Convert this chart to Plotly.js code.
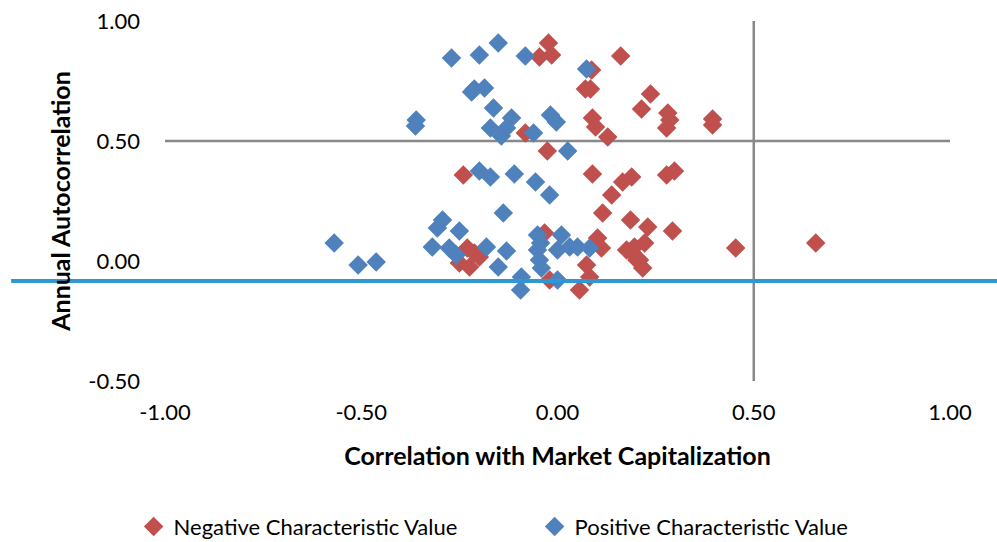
<!DOCTYPE html>
<html>
<head>
<meta charset="utf-8">
<script src="https://cdn.plot.ly/plotly-3.0.1.min.js"></script>
<style>html,body{margin:0;padding:0;background:#fff;}#chart{width:997px;height:542px;}</style>
</head>
<body>
<div id="chart"></div>
<script>
// Negative Characteristic Value series
var negX = [-0.023,-0.046,-0.015,0.161,0.087,0.071,0.084,0.237,0.214,0.089,0.097,0.128,0.281,0.286,0.278,0.395,0.395,-0.082,-0.026,-0.240,0.089,0.166,0.189,0.138,0.278,0.298,0.115,0.186,0.230,0.293,0.222,0.191,0.209,0.217,0.102,0.112,0.074,0.082,0.056,-0.020,0.176,0.202,0.196,-0.199,-0.230,-0.250,-0.224,-0.212,-0.033,0.454,0.658];
var negY = [0.908,0.850,0.858,0.854,0.796,0.717,0.717,0.696,0.633,0.596,0.558,0.517,0.617,0.588,0.554,0.592,0.567,0.533,0.458,0.358,0.363,0.329,0.350,0.275,0.358,0.375,0.200,0.171,0.142,0.125,0.075,0.033,0.004,-0.029,0.096,0.054,-0.017,-0.067,-0.121,-0.079,0.046,0.004,0.058,0.017,0.054,-0.008,-0.025,0.033,0.117,0.054,0.075];
// Positive Characteristic Value series
var posX = [-0.569,-0.508,-0.462,-0.360,-0.362,-0.270,-0.199,-0.151,-0.082,-0.219,-0.186,-0.212,-0.163,-0.171,-0.143,-0.117,-0.130,-0.061,-0.018,-0.003,0.026,0.074,-0.199,-0.171,-0.110,-0.056,-0.020,-0.138,-0.293,-0.306,-0.250,-0.319,-0.276,-0.258,-0.181,-0.130,-0.151,-0.092,-0.094,-0.051,0.010,-0.051,-0.046,-0.041,0.000,0.031,0.051,0.082,0.000,-0.043];
var posY = [0.075,-0.017,-0.004,0.588,0.563,0.846,0.858,0.908,0.854,0.704,0.721,0.717,0.638,0.554,0.521,0.596,0.554,0.533,0.608,0.579,0.458,0.800,0.375,0.350,0.363,0.329,0.275,0.200,0.171,0.138,0.125,0.058,0.054,0.025,0.058,0.042,-0.025,-0.067,-0.121,0.108,0.108,0.046,0.004,-0.029,0.046,0.058,0.058,0.054,-0.079,0.075];

var xTicks = [-1.0,-0.5,0.0,0.5,1.0];
var xTickText = ["-1.00","-0.50","0.00","0.50","1.00"];
var yTicks = [-0.5,0.0,0.5,1.0];
var yTickText = ["-0.50","0.00","0.50","1.00"];
var axisCross = 0.5;       // gray axis lines cross at 0.5
var refLineY = -0.083;     // blue horizontal reference line

var FONT = "Lato, 'Open Sans', 'Liberation Sans', sans-serif";

var traces = [
  {x: negX, y: negY, type: "scatter", mode: "markers", name: "Negative Characteristic Value",
   marker: {symbol: "diamond", size: 15, color: "#C0504D"}},
  {x: posX, y: posY, type: "scatter", mode: "markers", name: "Positive Characteristic Value",
   marker: {symbol: "diamond", size: 15, color: "#4F81BD"}}
];

var layout = {
  width: 997, height: 542,
  margin: {l: 165, r: 47, t: 21, b: 161, autoexpand: false},
  paper_bgcolor: "#ffffff", plot_bgcolor: "#ffffff",
  font: {family: FONT, size: 22, color: "#000"},
  showlegend: true,
  legend: {orientation: "h", x: -0.04, xanchor: "left", y: -0.405, yanchor: "middle",
           font: {family: FONT, size: 22, color: "#000"}, itemwidth: 30, tracegroupgap: 0,
           entrywidth: 356},
  xaxis: {range: [-1, 1], tickvals: xTicks, ticktext: xTickText, showgrid: false, zeroline: false,
          showline: false, ticks: "", ticklabelstandoff: 16, automargin: false,
          tickfont: {family: FONT, size: 22},
          title: {text: "<b>Correlation with Market Capitalization</b>", font: {family: FONT, size: 25}, standoff: 23}},
  yaxis: {range: [-0.5, 1], tickvals: yTicks, ticktext: yTickText, showgrid: false, zeroline: false,
          showline: false, ticks: "", ticklabelstandoff: 24, automargin: false,
          tickfont: {family: FONT, size: 22},
          title: {text: "<b>Annual Autocorrelation</b>", font: {family: FONT, size: 25}, standoff: 10}},
  shapes: [
    {type: "line", xref: "x", yref: "y", x0: -1, x1: 1, y0: axisCross, y1: axisCross,
     line: {color: "#898989", width: 2.5}, layer: "below"},
    {type: "line", xref: "x", yref: "y", x0: axisCross, x1: axisCross, y0: -0.5, y1: 1,
     line: {color: "#898989", width: 2.5}, layer: "below"},
    {type: "line", xref: "paper", yref: "y", x0: -0.196, x1: 1.06, y0: refLineY, y1: refLineY,
     line: {color: "#2F98D4", width: 4}, layer: "above"}
  ]
};

Plotly.newPlot("chart", traces, layout, {displayModeBar: false, staticPlot: true});
</script>
</body>
</html>
